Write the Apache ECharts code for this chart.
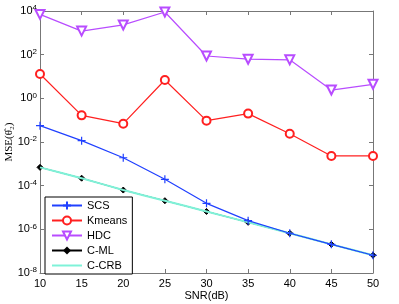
<!DOCTYPE html>
<html><head><meta charset="utf-8">
<script src="https://cdn.jsdelivr.net/npm/echarts@6/dist/echarts.min.js"></script>
<style>html,body{margin:0;padding:0;background:#fff}#c{width:399px;height:304px}</style>
</head><body><div id="c"></div>
<script>
const snr = [10, 15, 20, 25, 30, 35, 40, 45, 50];
const scs = [0.056, 0.0115, 0.0019, 1.95e-4, 1.55e-5, 2.5e-6, 6.6e-7, 2.05e-7, 6.5e-8];
const kmeans = [13, 0.166, 0.069, 6.9, 0.095, 0.2, 0.024, 0.0023, 0.0023];
const hdc = [7000, 1200, 2300, 9000, 87, 62, 58, 2.4, 4.4];
const cml = [6.9e-4, 2.2e-4, 6.3e-5, 2.05e-5, 6.6e-6, 2.1e-6, 6.6e-7, 2.05e-7, 6.5e-8];
const ccrb = [6.9e-4, 2.2e-4, 6.3e-5, 2.05e-5, 6.6e-6, 2.1e-6, 6.6e-7, 2.05e-7, 6.5e-8];
const seriesNames = ['SCS', 'Kmeans', 'HDC', 'C-ML', 'C-CRB'];

const pairs = a => snr.map((x, i) => [x, a[i]]);
const font = '"Liberation Sans", Arial, sans-serif';
const axisGray = '#777';
const chart = echarts.init(document.getElementById('c'));
const supLabel = v => {
  const e = Math.round(Math.log10(v));
  return '10{sup|' + e + '}';
};
chart.setOption({
  animation: false,
  backgroundColor: '#fff',
  grid: {left: 40, right: 26, top: 11, bottom: 31, outerBoundsMode: 'none', containLabel: false},
  legend: {
    orient: 'vertical', left: 45, top: 197,
    itemWidth: 30, itemHeight: 10, itemGap: 4,
    padding: [3, 5, 3, 6],
    borderColor: '#000', borderWidth: 1, backgroundColor: '#fff',
    textStyle: {fontFamily: font, fontSize: 11, color: '#000'},
    data: seriesNames.map(n => n === 'C-CRB' ? {name: n, itemStyle: {opacity: 0}} : {name: n})
  },
  xAxis: [{
    type: 'value', min: 10, max: 50, interval: 5,
    name: 'SNR(dB)', nameLocation: 'middle', nameGap: 17, nameMoveOverlap: false,
    nameTextStyle: {fontFamily: font, fontSize: 11, color: '#000'},
    axisLine: {lineStyle: {color: axisGray}},
    axisTick: {inside: true, length: 4, lineStyle: {color: axisGray}},
    axisLabel: {fontFamily: font, fontSize: 11, color: '#000', margin: 5},
    splitLine: {show: false}
  }, {
    type: 'value', position: 'top', min: 10, max: 50, interval: 5,
    axisLine: {show: true, lineStyle: {color: axisGray}},
    axisTick: {show: true, inside: true, length: 4, lineStyle: {color: axisGray}},
    axisLabel: {show: false}, splitLine: {show: false}
  }],
  yAxis: [{
    type: 'log', logBase: 10, min: 1e-8, max: 1e4, interval: 2,
    name: 'MSE(\u03B8\u0302\u2082)', nameLocation: 'middle', nameGap: 25, nameMoveOverlap: false,
    nameTextStyle: {fontFamily: '"Liberation Serif", "DejaVu Serif", serif', fontSize: 11, color: '#000'},
    axisLine: {show: true, lineStyle: {color: axisGray}},
    axisTick: {show: true, inside: true, length: 4, lineStyle: {color: axisGray}},
    axisLabel: {
      fontFamily: font, fontSize: 11, color: '#000', margin: 3,
      formatter: supLabel,
      rich: {sup: {fontFamily: font, fontSize: 8, color: '#000', verticalAlign: 'bottom', padding: [0, 0, 6, 0]}}
    },
    splitLine: {show: false}, minorTick: {show: false}
  }, {
    type: 'log', logBase: 10, min: 1e-8, max: 1e4, interval: 2, position: 'right',
    axisLine: {show: true, lineStyle: {color: axisGray}},
    axisTick: {show: true, inside: true, length: 4, lineStyle: {color: axisGray}},
    axisLabel: {show: false}, splitLine: {show: false}
  }],
  series: [
    {name: 'SCS', type: 'line', data: pairs(scs), z: 4,
      symbol: 'path://M5,0 L5,10 M0,5 L10,5', symbolSize: 8,
      lineStyle: {color: '#2040ff', width: 1.2},
      itemStyle: {color: '#2040ff', borderColor: '#2040ff', borderWidth: 1.2}},
    {name: 'Kmeans', type: 'line', data: pairs(kmeans), z: 4,
      symbol: 'emptyCircle', symbolSize: 8,
      lineStyle: {color: '#ff2020', width: 1.2},
      itemStyle: {color: '#ff2020', borderColor: '#ff2020', borderWidth: 1.2}},
    {name: 'HDC', type: 'line', data: pairs(hdc), z: 4,
      symbol: 'emptyTriangle', symbolRotate: 180, symbolSize: 9,
      lineStyle: {color: '#b84cff', width: 1.2},
      itemStyle: {color: '#b84cff', borderColor: '#b84cff', borderWidth: 1.2}},
    {name: 'C-ML', type: 'line', data: pairs(cml), z: 2,
      symbol: 'diamond', symbolSize: 6,
      lineStyle: {color: '#000', width: 1},
      itemStyle: {color: '#000', borderColor: '#000'}},
    {name: 'C-CRB', type: 'line', data: pairs(ccrb), z: 3,
      symbol: 'none', smooth: 0.2,
      lineStyle: {color: '#7ff2d8', width: 2},
      itemStyle: {color: '#7ff2d8'}}
  ]
});
</script></body></html>
